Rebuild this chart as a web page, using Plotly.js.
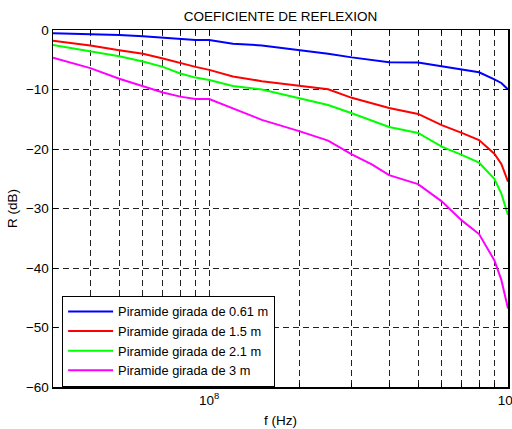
<!DOCTYPE html>
<html>
<head>
<meta charset="utf-8">
<script src="https://cdn.plot.ly/plotly-3.0.1.min.js"></script>
<style>html,body{margin:0;padding:0;background:#fff;}#chart{width:512px;height:429px;}</style>
</head>
<body>
<div id="chart"></div>
<script>
const freq = [3e7, 4e7, 5e7, 6e7, 7e7, 8e7, 9e7, 1e8, 1.2e8, 1.5e8, 2e8, 2.5e8, 3e8, 3.5e8, 4e8, 5e8, 6e8, 7e8, 8e8, 9e8, 9.5e8, 1e9];
const r061 = [-0.55, -0.65, -0.85, -1.05, -1.3, -1.55, -1.7, -1.7, -2.3, -2.6, -3.35, -4.0, -4.6, -5.0, -5.4, -5.45, -6.1, -6.6, -7.1, -8.3, -8.9, -10.0];
const r15  = [-1.8, -2.6, -3.4, -4.0, -4.8, -5.6, -6.2, -6.7, -7.8, -8.6, -9.3, -9.95, -11.4, -12.3, -13.1, -14.1, -16.0, -17.3, -18.5, -20.8, -22.5, -25.5];
const r21  = [-2.5, -3.5, -4.4, -5.3, -6.2, -7.3, -8.0, -8.4, -9.4, -10.0, -11.5, -12.6, -14.0, -15.2, -16.3, -17.3, -19.6, -21.0, -22.3, -25.0, -27.5, -31.1];
const r3   = [-4.65, -6.4, -8.2, -9.4, -10.5, -11.2, -11.6, -11.6, -13.2, -15.1, -17.0, -18.6, -20.9, -22.6, -24.4, -25.9, -28.8, -32.0, -34.3, -38.7, -42.0, -46.8];
const seriesNames = ["Piramide girada de 0.61 m", "Piramide girada de 1.5 m", "Piramide girada de 2.1 m", "Piramide girada de 3 m"];
const seriesColors = ["#0000ff", "#ff0000", "#00ff00", "#ff00ff"];
const xMajorVals = [1e8, 1e9];
const xMajorText = ["10<sup>8</sup>", "10<sup>9</sup>"];
const xMinorVals = [3e7, 4e7, 5e7, 6e7, 7e7, 8e7, 9e7, 2e8, 3e8, 4e8, 5e8, 6e8, 7e8, 8e8, 9e8];
const yTickVals = [-60, -50, -40, -30, -20, -10, 0];

const ys = [r061, r15, r21, r3];
const traces = ys.map((y, i) => ({
  x: freq, y: y, type: 'scatter', mode: 'lines', name: seriesNames[i],
  line: {color: seriesColors[i], width: 2}
}));

const FONT = "Liberation Sans, Arial, Helvetica, sans-serif";
const GRID = {showgrid: true, gridcolor: '#222', griddash: '6px,4px', gridwidth: 1};
const layout = {
  width: 512, height: 429,
  margin: {l: 53, r: 4, t: 30, b: 42},
  paper_bgcolor: '#fff', plot_bgcolor: '#fff',
  font: {family: FONT, size: 13.5, color: '#000'},
  showlegend: true,
  title: {text: 'COEFICIENTE DE REFLEXION', font: {family: FONT, size: 13.5, color: '#000'}, x: 0.548, xanchor: 'center', y: 0.962, yanchor: 'middle'},
  xaxis: Object.assign({
    type: 'log', range: [Math.log10(3e7), 9],
    tickmode: 'array', tickvals: xMajorVals, ticktext: xMajorText,
    ticks: 'inside', ticklen: 5, tickcolor: '#000', tickwidth: 1,
    ticklabeloverflow: 'allow',
    showline: true, linecolor: '#000', linewidth: 1.5, mirror: 'ticks',
    zeroline: false,
    minor: Object.assign({tickmode: 'array', tickvals: xMinorVals, ticks: 'inside', ticklen: 4, tickcolor: '#000', tickwidth: 1}, GRID),
    title: {text: 'f (Hz)', font: {size: 13.5}, standoff: 9},
    tickfont: {size: 13.5}
  }, GRID),
  yaxis: Object.assign({
    range: [-60, 0], tickmode: 'array', tickvals: yTickVals,
    ticks: 'inside', ticklen: 5, tickcolor: '#000', tickwidth: 1,
    showline: true, linecolor: '#000', linewidth: 1.5, mirror: 'ticks',
    zeroline: false,
    title: {text: 'R (dB)', font: {size: 13.5}, standoff: 5},
    tickfont: {size: 13.5}
  }, GRID),
  legend: {
    x: 0.02, y: 0.256, xanchor: 'left', yanchor: 'top',
    bgcolor: '#fff', bordercolor: '#000', borderwidth: 1,
    font: {family: FONT, size: 12.8, color: '#000'},
    itemwidth: 45,
    tracegroupgap: 0
  }
};

Plotly.newPlot('chart', traces, layout, {displayModeBar: false, staticPlot: true});
</script>
</body>
</html>
